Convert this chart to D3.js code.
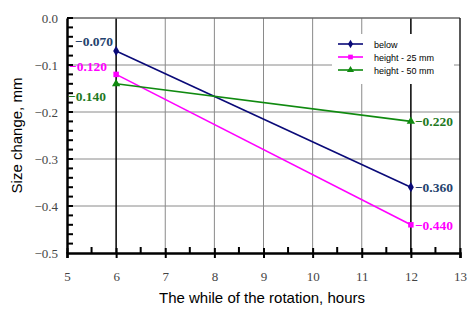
<!DOCTYPE html>
<html>
<head>
<meta charset="utf-8">
<script src="https://cdn.jsdelivr.net/npm/d3@7"></script>
<style>
  body { margin: 0; background: #fff; }
  svg { display: block; }
</style>
</head>
<body>
<svg id="chart" width="470" height="312"></svg>
<script>
const hours = [6, 12];
const below = [-0.070, -0.360];
const height25 = [-0.120, -0.440];
const height50 = [-0.140, -0.220];
const seriesNames = ['below', 'height - 25 mm', 'height - 50 mm'];
const xTicks = [5, 6, 7, 8, 9, 10, 11, 12, 13];
const yTicks = [0, -0.1, -0.2, -0.3, -0.4, -0.5];

const margin = {left: 67, right: 10, top: 18, bottom: 59};
const W = 470, H = 312;

const svg = d3.select('#chart');

const x = d3.scaleLinear().domain([5, 13]).range([margin.left, W - margin.right]);
const y = d3.scaleLinear().domain([-0.5, 0]).range([H - margin.bottom, margin.top]);

const series = [
  {name: seriesNames[0], vals: below, color: '#0a0a78', labelColor: '#24426e', symbol: d3.symbolDiamond, size: 30},
  {name: seriesNames[1], vals: height25, color: '#ff00ff', labelColor: '#ff00ff', symbol: d3.symbolSquare, size: 30},
  {name: seriesNames[2], vals: height50, color: '#108a10', labelColor: '#1f7a1f', symbol: d3.symbolTriangle, size: 30}
];

// grid
const grid = svg.append('g');
grid.selectAll('.hgrid').data(yTicks.slice(1, -1)).enter().append('line')
  .attr('x1', x(5)).attr('x2', x(13))
  .attr('y1', d => y(d)).attr('y2', d => y(d))
  .attr('stroke', '#8a8a8a').attr('stroke-width', 1);
grid.selectAll('.vgrid').data(xTicks.slice(1, -1)).enter().append('line')
  .attr('x1', d => x(d)).attr('x2', d => x(d))
  .attr('y1', y(0)).attr('y2', y(-0.5))
  .attr('stroke', d => (d === 6 || d === 12) ? '#000' : '#8a8a8a')
  .attr('stroke-width', d => (d === 6 || d === 12) ? 1.5 : 1);
// frame top / right
svg.append('line').attr('x1', x(5)).attr('x2', x(13)).attr('y1', y(0)).attr('y2', y(0))
  .attr('stroke', '#666').attr('stroke-width', 1.5);
svg.append('line').attr('x1', x(13)).attr('x2', x(13)).attr('y1', y(0)).attr('y2', y(-0.5))
  .attr('stroke', '#222').attr('stroke-width', 1.5);

// y axis
const yAxis = svg.append('g').attr('transform', `translate(${x(5)},0)`)
  .call(d3.axisLeft(y).tickValues(yTicks).tickSize(0).tickPadding(9).tickFormat(d3.format('.1f')));
yAxis.select('.domain').attr('stroke', '#000').attr('stroke-width', 2.5);
yAxis.selectAll('text').attr('font-family', '"Liberation Serif", serif').attr('font-size', 13).attr('fill', '#444');
svg.append('g').selectAll('line').data(d3.range(0, 25).map(i => -i * 0.02)).enter().append('line')
  .attr('x1', x(5)).attr('x2', x(5) + 6)
  .attr('y1', d => y(d)).attr('y2', d => y(d))
  .attr('stroke', '#000').attr('stroke-width', 2);

// x axis
const xAxis = svg.append('g').attr('transform', `translate(0,${y(-0.5)})`)
  .call(d3.axisBottom(x).tickValues(xTicks).tickSize(5).tickPadding(14).tickFormat(d3.format('d')));
xAxis.select('.domain').attr('stroke', '#000').attr('stroke-width', 2.5);
xAxis.selectAll('.tick line').attr('stroke', '#000').attr('stroke-width', 2).attr('y1', -5);
xAxis.selectAll('text').attr('font-family', '"Liberation Serif", serif').attr('font-size', 13).attr('fill', '#444');
svg.append('g').selectAll('line').data(d3.range(5.5, 13, 1)).enter().append('line')
  .attr('x1', d => x(d)).attr('x2', d => x(d))
  .attr('y1', y(-0.5)).attr('y2', y(-0.5) - 6)
  .attr('stroke', '#000').attr('stroke-width', 2);

// axis titles
svg.append('text').attr('x', 262).attr('y', 303).attr('text-anchor', 'middle')
  .attr('font-family', '"Liberation Sans", Arial, sans-serif').attr('font-size', 15).attr('fill', '#000')
  .text('The while of the rotation, hours');
svg.append('text').attr('transform', `translate(22,${(y(0) + y(-0.5)) / 2}) rotate(-90)`)
  .attr('text-anchor', 'middle')
  .attr('font-family', '"Liberation Sans", Arial, sans-serif').attr('font-size', 15).attr('fill', '#000')
  .text('Size change, mm');

// lines + markers
const line = d3.line().x((d, i) => x(hours[i])).y(d => y(d));
series.forEach(s => {
  svg.append('path').datum(s.vals).attr('d', line)
    .attr('fill', 'none').attr('stroke', s.color).attr('stroke-width', 1.6);
  svg.append('g').selectAll('path').data(s.vals).enter().append('path')
    .attr('d', d3.symbol().type(s.symbol).size(s.size))
    .attr('transform', (d, i) => `translate(${x(hours[i])},${y(d)})`)
    .attr('fill', s.color);
});

// data labels
const labelFmt = d3.format('.3f');
const leftOffsets = [[-3, -5], [-9, -3], [-10, 17]];
const rightOffsets = [[4, 5], [4, 5], [4, 5]];
series.forEach((s, k) => {
  svg.append('text')
    .attr('x', x(hours[0]) + leftOffsets[k][0]).attr('y', y(s.vals[0]) + leftOffsets[k][1])
    .attr('text-anchor', 'end')
    .attr('font-family', '"Liberation Serif", serif').attr('font-weight', 'bold').attr('font-size', 13.5)
    .attr('fill', s.labelColor).text(labelFmt(s.vals[0]));
  svg.append('text')
    .attr('x', x(hours[1]) + rightOffsets[k][0]).attr('y', y(s.vals[1]) + rightOffsets[k][1])
    .attr('text-anchor', 'start')
    .attr('font-family', '"Liberation Serif", serif').attr('font-weight', 'bold').attr('font-size', 13.5)
    .attr('fill', s.labelColor).text(labelFmt(s.vals[1]));
});

// legend
const legend = svg.append('g').attr('transform', 'translate(332,34)');
legend.append('rect').attr('width', 122).attr('height', 50).attr('fill', '#fff');
series.forEach((s, k) => {
  const g = legend.append('g').attr('transform', `translate(6,${10 + k * 13})`);
  g.append('line').attr('x1', 0).attr('x2', 25).attr('stroke', s.color).attr('stroke-width', 1.6);
  g.append('path').attr('d', d3.symbol().type(s.symbol).size(22)).attr('transform', 'translate(12.5,0)').attr('fill', s.color);
  g.append('text').attr('x', 36).attr('y', 3.5)
    .attr('font-family', '"Liberation Sans", Arial, sans-serif').attr('font-size', 9).attr('fill', '#000')
    .text(s.name);
});
</script>
</body>
</html>
